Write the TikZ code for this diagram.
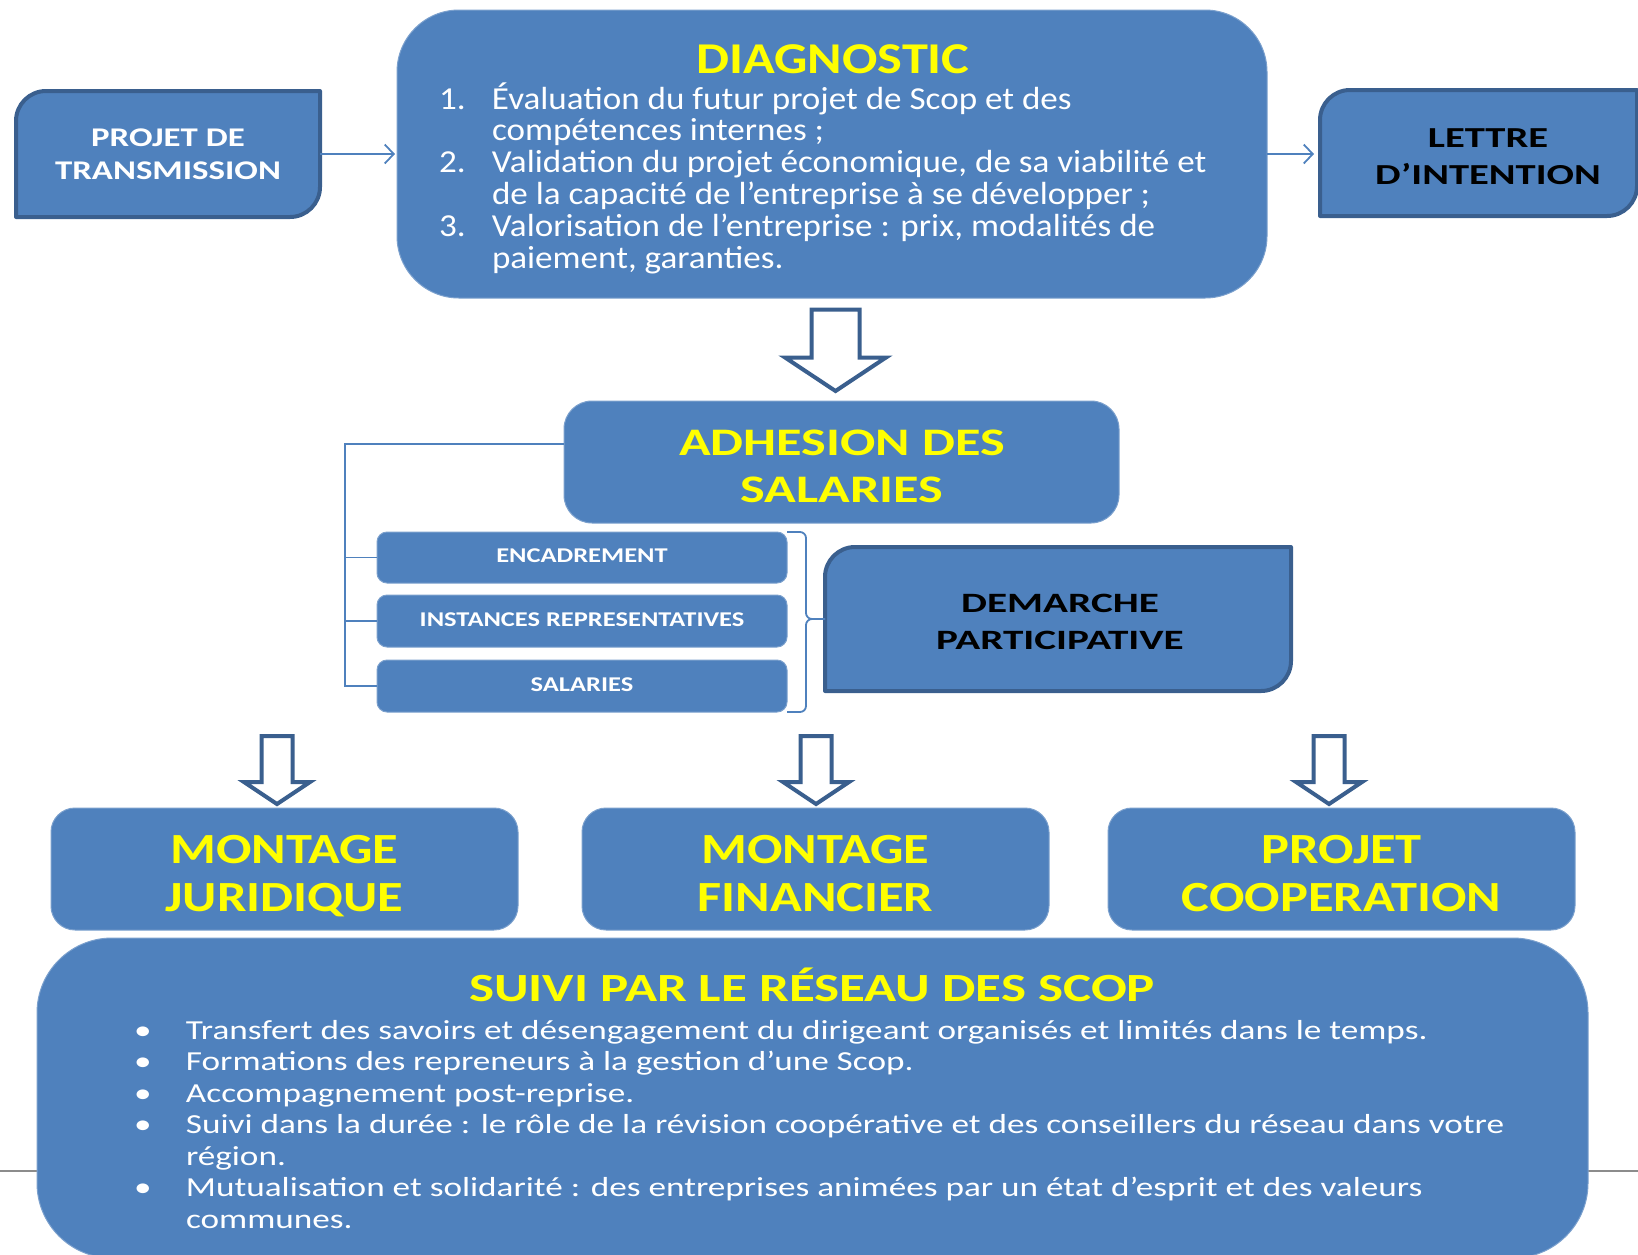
\documentclass[tikz,border=0pt]{standalone}
\usepackage{fontspec}
\setmainfont{Carlito}
\newfontfamily\fDiag[FakeStretch=1.096]{Carlito}
\newfontfamily\fSuivi[FakeStretch=1.28]{Carlito}
\newfontfamily\fPT[FakeStretch=1.29]{Carlito}
\newfontfamily\fLet[FakeStretch=1.40]{Carlito}
\newfontfamily\fDem[FakeStretch=1.47]{Carlito}
\newfontfamily\fSmall[FakeStretch=1.26]{Carlito}
\newfontfamily\fAdh[FakeStretch=1.34]{Carlito}
\newfontfamily\fDiagT[FakeStretch=1.19]{Carlito}
\newfontfamily\fBot[FakeStretch=1.22]{Carlito}
\newfontfamily\fSuiviT[FakeStretch=1.325]{Carlito}
\usetikzlibrary{arrows.meta,backgrounds}
\definecolor{boxblue}{HTML}{4F81BD}
\definecolor{edgeblue}{HTML}{3A5F8E}
\definecolor{ttlyellow}{HTML}{FFFF00}
\definecolor{rulegray}{HTML}{8C8C8C}
\newcommand\tst{\rule{0pt}{60pt}}
\newcommand\fsz[2]{\fontsize{#1}{#2}\selectfont}
\begin{document}
\begin{tikzpicture}[
  rbox/.style={fill=boxblue, draw=boxblue!75!white, line width=1pt, inner sep=0pt, outer sep=0pt},
  sbox/.style={inner sep=0pt, outer sep=0pt},
  snipedge/.style={fill=boxblue, draw=edgeblue, line width=4pt, line join=round},
  thinconn/.style={draw=boxblue, line width=1.8pt},
  thinarrow/.style={thinconn, -{Straight Barb[length=9pt,width=19pt,line width=1.8pt]}},
  hollow/.style={draw=edgeblue, fill=white, line width=4pt, line join=miter},
  txt/.style={inner sep=0pt, outer sep=0pt},
  lines/.style={txt, align=center, anchor=north},
]
\useasboundingbox (0,0) rectangle (1638pt,-1254pt);
\draw[rulegray, line width=1.6pt] (0,-1171pt) -- (1638pt,-1171pt);

% ---- boxes
\node[sbox, minimum width=304pt, minimum height=126pt] (ptrans) at (168pt,-154pt) {};
\node[rbox, rounded corners=62pt, minimum width=870pt, minimum height=288pt] (diag) at (832pt,-154pt) {};
\node[sbox, minimum width=317pt, minimum height=126pt] (lettre) at (1478.5pt,-153pt) {};
\node[rbox, rounded corners=28pt, minimum width=555pt, minimum height=122pt] (adh) at (841.5pt,-462pt) {};
\node[rbox, rounded corners=10pt, minimum width=410pt, minimum height=51pt] (enc) at (582pt,-557.5pt) {};
\node[rbox, rounded corners=10pt, minimum width=410pt, minimum height=52pt] (inst) at (582pt,-621pt) {};
\node[rbox, rounded corners=10pt, minimum width=410pt, minimum height=52pt] (sal) at (582pt,-686pt) {};
\node[sbox, minimum width=466pt, minimum height=144pt] (dem) at (1058pt,-619pt) {};
\node[rbox, rounded corners=24pt, minimum width=467pt, minimum height=122pt] (jur) at (284.5pt,-869pt) {};
\node[rbox, rounded corners=24pt, minimum width=467pt, minimum height=122pt] (fin) at (815.5pt,-869pt) {};
\node[rbox, rounded corners=24pt, minimum width=467pt, minimum height=122pt] (coop) at (1341.5pt,-869pt) {};
\node[rbox, rounded corners=75pt, minimum width=1551pt, minimum height=320pt] (suivi) at (812.5pt,-1098pt) {};

\begin{scope}[on background layer]
\foreach \n in {ptrans,lettre,dem}{
  \draw[snipedge] ([yshift=-30pt]\n.north west) arc[start angle=180,end angle=90,radius=30pt]
    -- (\n.north east) -- ([yshift=30pt]\n.south east) arc[start angle=0,end angle=-90,radius=30pt]
    -- (\n.south west) -- cycle;
}
\end{scope}

% ---- texts
\node[lines, text=white, font=\fPT\bfseries\fsz{27}{32.3}] (ptransT) at (168pt,{-(146.7pt-60pt)}) {\tst PROJET DE\\TRANSMISSION};
\node[lines, text=black, font=\fLet\bfseries\fsz{29}{36.5}] (lettreT) at (1488pt,{-(147.5pt-60pt)}) {\tst LETTRE\\D’INTENTION};
\node[txt, anchor=base, text=ttlyellow, font=\fDiagT\bfseries\fsz{44}{44}] (diagT) at (833pt,-73pt) {DIAGNOSTIC};
\node[txt, anchor=north west, align=left, text=white, font=\fDiag\fsz{32}{31.8}] (diagL) at (439pt,{-(109pt-60pt)}) {%
\tst\makebox[53pt][l]{1.}Évaluation du futur projet de Scop et des\\
\hspace*{53pt}compétences internes ;\\
\makebox[53pt][l]{2.}Validation du projet économique, de sa viabilité et\\
\hspace*{53pt}de la capacité de l’entreprise à se développer ;\\
\makebox[53pt][l]{3.}Valorisation de l’entreprise : prix, modalités de\\
\hspace*{53pt}paiement, garanties.};
\node[lines, text=ttlyellow, font=\fAdh\bfseries\fsz{39}{47.7}] (adhT) at (842pt,{-(455pt-60pt)}) {\tst ADHESION DES\\SALARIES};
\node[txt, anchor=base, text=white, font=\fSmall\bfseries\fsz{21}{21}] (encT) at (582pt,-562.7pt) {ENCADREMENT};
\node[txt, anchor=base, text=white, font=\fSmall\bfseries\fsz{21}{21}] (instT) at (582pt,-626.7pt) {INSTANCES REPRESENTATIVES};
\node[txt, anchor=base, text=white, font=\fSmall\bfseries\fsz{21}{21}] (salT) at (582pt,-691.7pt) {SALARIES};
\node[lines, text=black, font=\fDem\bfseries\fsz{28}{36.6}] (demT) at (1060pt,{-(612.5pt-60pt)}) {\tst DEMARCHE\\PARTICIPATIVE};
\node[lines, text=ttlyellow, font=\fBot\bfseries\fsz{43}{48}] (jurT) at (284.5pt,{-(863pt-60pt)}) {\tst MONTAGE\\JURIDIQUE};
\node[lines, text=ttlyellow, font=\fBot\bfseries\fsz{43}{48}] (finT) at (815.5pt,{-(863pt-60pt)}) {\tst MONTAGE\\FINANCIER};
\node[lines, text=ttlyellow, font=\fBot\bfseries\fsz{43}{48}] (coopT) at (1341.5pt,{-(863pt-60pt)}) {\tst PROJET\\COOPERATION};
\node[txt, anchor=base, text=ttlyellow, font=\fSuiviT\bfseries\fsz{40}{40}] (suiviT) at (812pt,-1001pt) {SUIVI PAR LE RÉSEAU DES SCOP};
\node[txt, anchor=north west, align=left, text=white, font=\fSuivi\fsz{27.5}{31.5}] (suiviL) at (134pt,{-(1039pt-60pt)}) {%
\tst\makebox[52pt][l]{•}Transfert des savoirs et désengagement du dirigeant organisés et limités dans le temps.\\
\makebox[52pt][l]{•}Formations des repreneurs à la gestion d’une Scop.\\
\makebox[52pt][l]{•}Accompagnement post-reprise.\\
\makebox[52pt][l]{•}Suivi dans la durée : le rôle de la révision coopérative et des conseillers du réseau dans votre\\
\hspace*{52pt}région.\\
\makebox[52pt][l]{•}Mutualisation et solidarité : des entreprises animées par un état d’esprit et des valeurs\\
\hspace*{52pt}communes.};

% ---- connectors
\draw[thinarrow, shorten >=2pt] (ptrans.east) -- (diag.west);
\draw[thinarrow, shorten >=6pt] (diag.east) -- (diag.east -| lettre.west);
\coordinate (brk) at (345pt,-444pt);
\draw[thinconn] (adh.west |- brk) -- (brk) -- (brk |- sal.west) -- (sal.west);
\draw[thinconn] (brk |- enc.west) -- (enc.west);
\draw[thinconn] (brk |- inst.west) -- (inst.west);
\coordinate (brc) at (806pt,-619pt);
\draw[thinconn, rounded corners=6pt] (enc.north east) -- (enc.north east -| brc) -- (brc) -- (dem.west);
\draw[thinconn, rounded corners=6pt] (sal.south east) -- (sal.south east -| brc) -- (brc) -- (dem.west);

% ---- hollow block arrows
\draw[hollow] (811.5pt,-309.5pt) -- (859.5pt,-309.5pt) -- (859.5pt,-357.5pt) -- (886pt,-357.5pt)
  -- (835.5pt,-391pt) -- (785pt,-357.5pt) -- (811.5pt,-357.5pt) -- cycle;
\foreach \cx in {277,816,1329}{
  \draw[hollow] ({(\cx-15.5)*1pt},-736pt) -- ({(\cx+15.5)*1pt},-736pt) -- ({(\cx+15.5)*1pt},-782pt)
    -- ({(\cx+33)*1pt},-782pt) -- (\cx pt,-804pt) -- ({(\cx-33)*1pt},-782pt)
    -- ({(\cx-15.5)*1pt},-782pt) -- cycle;
}
\end{tikzpicture}
\end{document}
